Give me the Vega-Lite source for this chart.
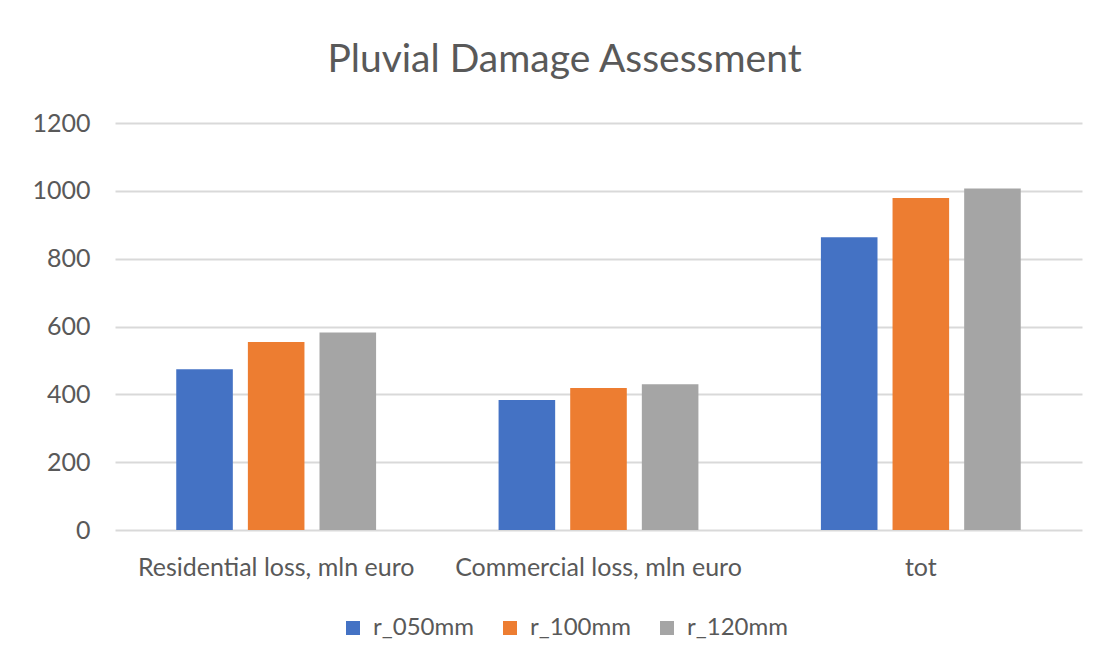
{
  "$schema": "https://vega.github.io/schema/vega-lite/v6.json",
  "autosize": {"type": "none"},
  "width": 967,
  "height": 407,
  "padding": {"left": 115, "top": 123, "right": 19, "bottom": 132},
  "background": "white",
  "title": {
    "text": "Pluvial Damage Assessment",
    "frame": "group",
    "anchor": "middle",
    "baseline": "alphabetic",
    "offset": 0,
    "dx": -34,
    "font": "Lato",
    "fontSize": 39,
    "fontWeight": "normal",
    "color": "#595959"
  },
  "data": {
    "values": [
      {"category": "Residential loss, mln euro", "series": "r_050mm", "value": 474},
      {"category": "Residential loss, mln euro", "series": "r_100mm", "value": 554},
      {"category": "Residential loss, mln euro", "series": "r_120mm", "value": 582},
      {"category": "Commercial loss, mln euro", "series": "r_050mm", "value": 383},
      {"category": "Commercial loss, mln euro", "series": "r_100mm", "value": 419},
      {"category": "Commercial loss, mln euro", "series": "r_120mm", "value": 430},
      {"category": "tot", "series": "r_050mm", "value": 863},
      {"category": "tot", "series": "r_100mm", "value": 979},
      {"category": "tot", "series": "r_120mm", "value": 1007}
    ]
  },
  "mark": {"type": "bar"},
  "encoding": {
    "x": {
      "field": "category",
      "type": "nominal",
      "sort": null,
      "scale": {"paddingInner": 0.38, "paddingOuter": 0.19},
      "axis": {
        "title": null,
        "domain": false,
        "ticks": false,
        "labelAngle": 0,
        "labelPadding": 45,
        "labelBaseline": "alphabetic",
        "labelFont": "Lato",
        "labelFontSize": 25,
        "labelColor": "#595959",
        "labelLimit": 400
      }
    },
    "xOffset": {
      "field": "series",
      "type": "nominal",
      "scale": {"paddingInner": 0.21, "paddingOuter": 0}
    },
    "y": {
      "field": "value",
      "type": "quantitative",
      "scale": {"domain": [0, 1200], "nice": false},
      "axis": {
        "title": null,
        "values": [0, 200, 400, 600, 800, 1000, 1200],
        "format": "d",
        "domain": false,
        "ticks": false,
        "labelPadding": 25,
        "labelFont": "Lato",
        "labelFontSize": 25,
        "labelColor": "#595959",
        "gridColor": "#d9d9d9",
        "gridWidth": 2
      }
    },
    "color": {
      "field": "series",
      "type": "nominal",
      "scale": {
        "domain": ["r_050mm", "r_100mm", "r_120mm"],
        "range": ["#4472c4", "#ed7d31", "#a5a5a5"]
      },
      "legend": {
        "title": null,
        "orient": "none",
        "direction": "horizontal",
        "legendX": 226,
        "legendY": 493,
        "symbolType": "square",
        "symbolSize": 196,
        "symbolStrokeWidth": 0,
        "columnPadding": 24,
        "labelFont": "Lato",
        "labelFontSize": 24,
        "labelColor": "#595959",
        "labelOffset": 8
      }
    }
  },
  "config": {
    "view": {"stroke": null}
  }
}
